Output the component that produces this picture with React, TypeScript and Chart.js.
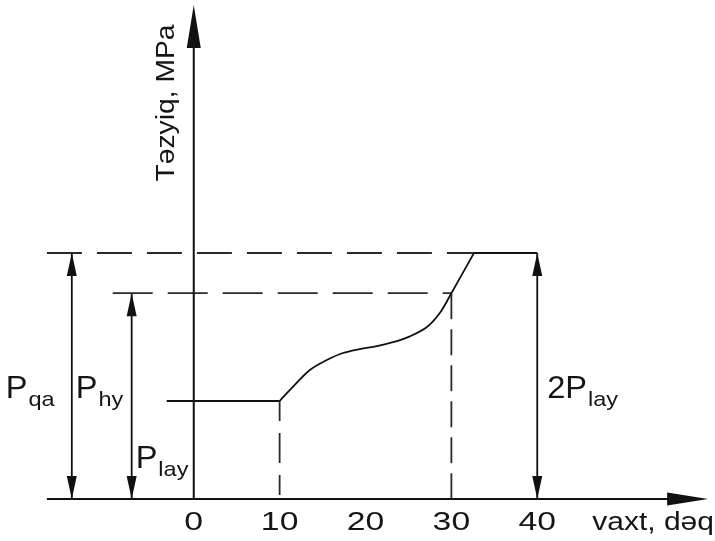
import React, { useEffect, useRef } from "react";
import { Chart, registerables } from "chart.js";
Chart.register(...registerables);

// ---- data (schematic values) ----
const xTickValues = [0, 10, 20, 30, 40];
const xTickLabels = ["0", "10", "20", "30", "40"];
const P_LAY = 10;
const P_HY = 21;
const P_QA = 25.1;
const flatX = [-3.15, 10];
const curveX = [10, 11.54, 13.52, 15.5, 17.37, 19.35, 21.33, 23.19, 25.17, 27.16, 28.67, 30, 31.35, 32.63];
const curveY = [10, 11.43, 13.16, 14.18, 14.9, 15.3, 15.6, 16.0, 16.6, 17.55, 19.0, 21.0, 23.1, 25.1];
const qaLineX = [-17.1, 32.63, 40];
const hyLineX = [-9.44, 30];
const arrowQaX = -14.2;
const arrowHyX = -7.23;
const arrow2LayX = 40;
const xAxisRange = [-17.1, 59.9];
const yAxisRange = [0, 50.4];
const xAxisTitle = "vaxt, dəq";
const yAxisTitle = "Təzyiq, MPa";

const INK = "#111";
const DASH_INK = "#2a2a2a";
const FONT = "'Liberation Sans', Arial, sans-serif";

function line(data: { x: number; y: number }[], dash: number[] = [], color = INK, width = 1.8, tension = 0) {
  return {
    data,
    showLine: true,
    borderColor: color,
    borderWidth: width,
    borderDash: dash,
    pointRadius: 0,
    fill: false,
    tension,
    clip: false,
  } as any;
}

function arrowHead(ctx: CanvasRenderingContext2D, tx: number, ty: number, dx: number, dy: number, len: number, w: number) {
  const bx = tx - dx * len;
  const by = ty - dy * len;
  const px = -dy, py = dx;
  ctx.beginPath();
  ctx.moveTo(tx, ty);
  ctx.lineTo(bx + px * w / 2, by + py * w / 2);
  ctx.lineTo(bx - px * w / 2, by - py * w / 2);
  ctx.closePath();
  ctx.fill();
}

function stretchedText(ctx: CanvasRenderingContext2D, text: string, x: number, y: number, font: string, sx: number, align: CanvasTextAlign = "left") {
  ctx.save();
  ctx.font = font;
  ctx.textAlign = align;
  ctx.textBaseline = "alphabetic";
  ctx.translate(x, y);
  ctx.scale(sx, 1);
  ctx.fillText(text, 0, 0);
  const w = ctx.measureText(text).width * sx;
  ctx.restore();
  return w;
}

function subLabel(ctx: CanvasRenderingContext2D, main: string, sub: string, x: number, y: number) {
  const w = stretchedText(ctx, main, x, y, "31px " + FONT, 1.05);
  stretchedText(ctx, sub, x + w + 1, y + 8, "21px " + FONT, 1.12);
}

const decorPlugin = {
  id: "decor",
  afterDatasetsDraw(chart: any) {
    const ctx: CanvasRenderingContext2D = chart.ctx;
    const xs = chart.scales.x;
    const ys = chart.scales.y;
    const X = (v: number) => xs.getPixelForValue(v);
    const Y = (v: number) => ys.getPixelForValue(v);
    ctx.save();
    ctx.fillStyle = INK;
    arrowHead(ctx, X(xAxisRange[1]), Y(0), 1, 0, 41, 13);
    arrowHead(ctx, X(0), Y(yAxisRange[1]), 0, -1, 43, 14);
    for (const [ax, top] of [[arrowQaX, P_QA], [arrowHyX, P_HY], [arrow2LayX, P_QA]]) {
      arrowHead(ctx, X(ax), Y(top), 0, -1, 23, 10);
      arrowHead(ctx, X(ax), Y(0), 0, 1, 23, 10);
    }
    ctx.fillStyle = "#151515";
    xTickValues.forEach((v, i) => {
      stretchedText(ctx, xTickLabels[i], X(v), 530, "25px " + FONT, 1.35, "center");
    });
    stretchedText(ctx, xAxisTitle, X(40) + 55, 530, "25px " + FONT, 1.2, "left");
    ctx.save();
    ctx.translate(X(0) - 20, 103);
    ctx.rotate(-Math.PI / 2);
    ctx.scale(1.13, 1);
    ctx.font = "25px " + FONT;
    ctx.textAlign = "center";
    ctx.textBaseline = "alphabetic";
    ctx.fillText(yAxisTitle, 0, 0);
    ctx.restore();
    subLabel(ctx, "P", "qa", X(arrowQaX) - 66, Y(P_LAY) - 3);
    subLabel(ctx, "P", "hy", X(arrowQaX) + 4, Y(P_LAY) - 3);
    subLabel(ctx, "P", "lay", X(arrowHyX) + 4, Y(3.2));
    subLabel(ctx, "2P", "lay", X(arrow2LayX) + 10, Y(P_LAY) - 3);
    ctx.restore();
  },
};

export default function App() {
  const ref = useRef<HTMLCanvasElement>(null);
  useEffect(() => {
    document.body.style.margin = "0";
    const canvas = ref.current!;
    const datasets = [
      line([{ x: xAxisRange[0], y: 0 }, { x: xAxisRange[1] - 2, y: 0 }], [], INK, 2),
      line([{ x: 0, y: 0 }, { x: 0, y: yAxisRange[1] - 2 }], [], INK, 2),
      line(flatX.map((x) => ({ x, y: P_LAY }))),
      line(curveX.map((x, i) => ({ x, y: curveY[i] })), [], INK, 1.8, 0.35),
      line([{ x: qaLineX[0], y: P_QA }, { x: qaLineX[1], y: P_QA }], [35, 15], DASH_INK),
      line([{ x: qaLineX[1], y: P_QA }, { x: qaLineX[2], y: P_QA }]),
      line([{ x: hyLineX[0], y: P_HY }, { x: hyLineX[1], y: P_HY }], [40, 15], DASH_INK),
      line([{ x: 10, y: P_LAY }, { x: 10, y: 0 }], [20, 12, 30, 12], DASH_INK),
      line([{ x: 30, y: P_HY }, { x: 30, y: 0 }], [26, 10], DASH_INK),
      line([{ x: arrowQaX, y: 0 }, { x: arrowQaX, y: P_QA }]),
      line([{ x: arrowHyX, y: 0 }, { x: arrowHyX, y: P_HY }]),
      line([{ x: arrow2LayX, y: 0 }, { x: arrow2LayX, y: P_QA }]),
    ];
    const chart = new Chart(canvas, {
      type: "scatter",
      data: { datasets },
      options: {
        animation: false,
        responsive: false,
        maintainAspectRatio: false,
        layout: { padding: { left: 22, right: 6, top: 9, bottom: 42 } },
        plugins: { legend: { display: false }, tooltip: { enabled: false } },
        scales: {
          x: { type: "linear", min: -20, max: 60, display: false },
          y: { type: "linear", min: 0, max: 50, display: false },
        },
      },
      plugins: [decorPlugin],
    } as any);
    return () => chart.destroy();
  }, []);
  return <canvas ref={ref} width={715} height={541} style={{ display: "block" }} />;
}
